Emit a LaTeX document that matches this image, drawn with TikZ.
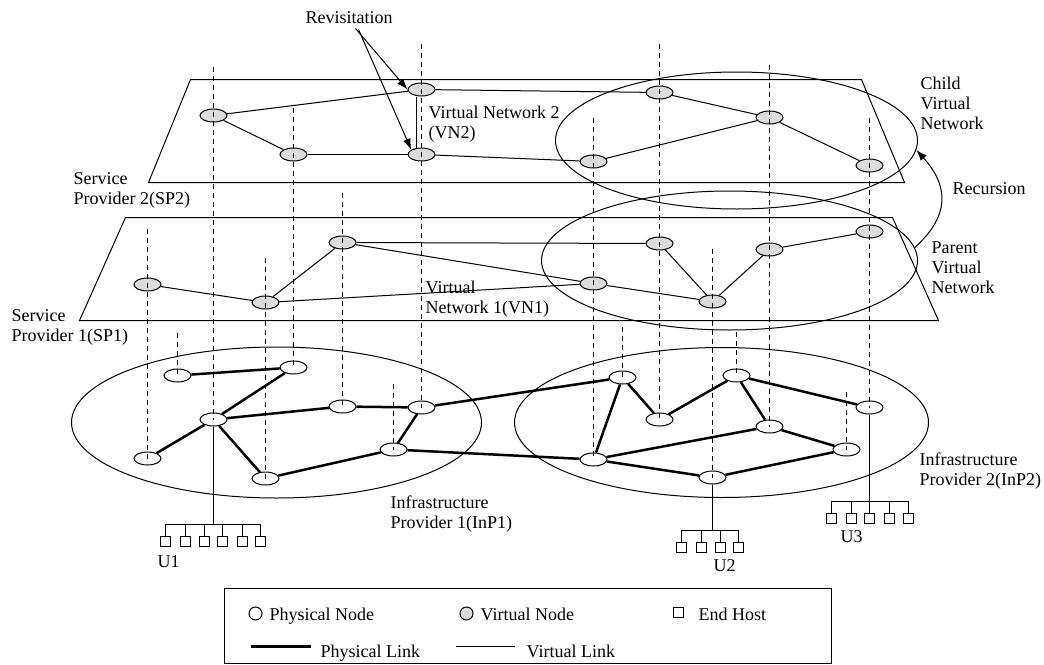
\documentclass[tikz,border=0pt]{standalone}
\usepackage{fontspec}
\setmainfont{Liberation Serif}
\usetikzlibrary{shapes.geometric,arrows.meta,calc}
\definecolor{vfill}{RGB}{220,220,220}
\begin{document}
\begin{tikzpicture}[x=1pt,y=-1pt,
  txt/.style={font=\fontsize{18}{20}\selectfont, inner sep=0pt},
  ml/.style={txt, align=left, anchor=north west},
  sl/.style={txt, anchor=base west},
  vnode/.style={ellipse, draw, fill=vfill, line width=1pt, minimum width=27pt, minimum height=13pt, inner sep=0pt},
  pnode/.style={ellipse, draw, fill=white, line width=1pt, minimum width=27pt, minimum height=13pt, inner sep=0pt},
  host/.style={rectangle, draw, fill=white, line width=1pt, minimum size=10pt, inner sep=0pt},
  plane/.style={draw, line width=1pt, line join=miter},
  region/.style={ellipse, draw, line width=1pt, inner sep=0pt},
  vlink/.style={line width=1pt},
  plink/.style={line width=2.5pt},
  hline/.style={line width=1pt},
  vdash/.style={line width=1pt, dash pattern=on 5pt off 4pt},
  arr/.style={line width=1pt, -{Latex[length=11pt,width=8pt]}},
]
\useasboundingbox (0,0) rectangle (1044,664);
\begin{scope}[shift={(0.5,0.5)}]

% planes
\coordinate (s2a) at (190,79); \coordinate (s2b) at (861,79);
\coordinate (s2c) at (904,182); \coordinate (s2d) at (148,182);
\draw[plane] (s2a) -- (s2b) -- (s2c) -- (s2d) -- cycle;
\coordinate (s1a) at (125,217); \coordinate (s1b) at (892,217);
\coordinate (s1c) at (938,320); \coordinate (s1d) at (79,320);
\draw[plane] (s1a) -- (s1b) -- (s1c) -- (s1d) -- cycle;

% regions
\node[region, minimum width=362pt, minimum height=137pt] (CVN) at (736,140) {};
\node[region, minimum width=376pt, minimum height=139pt] (PVN) at (729,260) {};
\node[region, minimum width=410pt, minimum height=151pt] (InPa) at (276,422) {};
\node[region, minimum width=414pt, minimum height=150pt] (InPb) at (721,422) {};

% SP2 virtual nodes
\node[vnode] (A) at (213,115) {};
\node[vnode] (B) at (293,154) {};
\node[vnode] (C) at (421,89) {};
\node[vnode] (D) at (421,154) {};
\node[vnode] (E) at (659,92) {};
\node[vnode] (F) at (769,117) {};
\node[vnode] (G) at (593,161) {};
\node[vnode] (H) at (869,165) {};
% SP1 virtual nodes
\node[vnode] (a) at (147,284) {};
\node[vnode] (b) at (265,302) {};
\node[vnode] (c) at (342,242) {};
\node[vnode] (d) at (659,243) {};
\node[vnode] (e) at (593,283) {};
\node[vnode] (f) at (712,301) {};
\node[vnode] (g) at (769,249) {};
\node[vnode] (h) at (869,231) {};
% physical nodes
\node[pnode] (p1) at (177,375) {};
\node[pnode] (p2) at (293,367) {};
\node[pnode] (p3) at (213,419) {};
\node[pnode] (p4) at (342,406) {};
\node[pnode] (p5) at (421,407) {};
\node[pnode] (p6) at (147,458) {};
\node[pnode] (p7) at (265,478) {};
\node[pnode] (p8) at (393,449) {};
\node[pnode] (q1) at (622,377) {};
\node[pnode] (q2) at (659,419) {};
\node[pnode] (q3) at (736,375) {};
\node[pnode] (q4) at (769,426) {};
\node[pnode] (q5) at (869,407) {};
\node[pnode] (q6) at (593,459) {};
\node[pnode] (q7) at (712,477) {};
\node[pnode] (q8) at (846,449) {};

% virtual links SP2
\draw[vlink] (A) -- (C);
\draw[vlink] (A) -- (B);
\draw[vlink] (B) -- (D);
\draw[vlink] ($(C.south)+(-5,0)$) -- ($(D.north)+(-5,0)$);
\draw[vlink] (C) -- (E);
\draw[vlink] (D) -- (G);
\draw[vlink] (E) -- (F);
\draw[vlink] (F) -- (G);
\draw[vlink] (F) -- (H);
% virtual links SP1
\draw[vlink] (a) -- (b);
\draw[vlink] (b) -- (c);
\draw[vlink] (b) -- (e);
\draw[vlink] (c) -- (d);
\draw[vlink] (c) -- (e);
\draw[vlink] (d) -- (f);
\draw[vlink] (e) -- (f);
\draw[vlink] (f) -- (g);
\draw[vlink] (g) -- (h);
% physical links
\foreach \u/\v in {p1/p2,p2/p3,p3/p6,p3/p4,p3/p7,p4/p5,p5/p8,p7/p8,p5/q1,p8/q6,
  q1/q6,q1/q2,q2/q3,q3/q4,q3/q5,q4/q6,q4/q8,q6/q7,q7/q8}
  \draw[plink] (\u) -- (\v);

% dashed mapping lines
\coordinate (t1) at (213,66);  \draw[vdash] (t1) -- (p3.center);
\coordinate (t2) at (293,107); \draw[vdash] (t2) -- (p2.center);
\coordinate (t3) at (342,192); \draw[vdash] (t3) -- (p4.center);
\coordinate (t4) at (421,43);  \draw[vdash] (t4) -- (p5.center);
\coordinate (t5) at (147,228); \draw[vdash] (t5) -- (p6.center);
\coordinate (t6) at (265,257); \draw[vdash] (t6) -- (p7.center);
\coordinate (t7) at (177,332); \draw[vdash] (t7) -- (p1.center);
\coordinate (t8) at (393,383); \draw[vdash] (t8) -- (p8.center);
\coordinate (t9) at (659,43);  \draw[vdash] (t9) -- (q2.center);
\coordinate (t10) at (593,117); \draw[vdash] (t10) -- (q6.center);
\coordinate (t11) at (622,326); \draw[vdash] (t11) -- (q1.center);
\coordinate (t12) at (712,248); \draw[vdash] (t12) -- (q7.center);
\coordinate (t13) at (736,331); \draw[vdash] (t13) -- (q3.center);
\coordinate (t14) at (769,64);  \draw[vdash] (t14) -- (q4.center);
\coordinate (t15) at (846,391); \draw[vdash] (t15) -- (q8.center);
\coordinate (t16) at (869,117); \draw[vdash] (t16) -- (q5.center);

% end hosts U1
\foreach \n/\x in {1/165,2/185,3/204,4/222,5/242,6/260}
  \node[host] (u1\n) at (\x,541) {};
\coordinate (bus1) at (213,524);
\draw[hline] (p3.south) -- (bus1);
\draw[hline] (u11.north) -- (u11.north |- bus1) -- (u16.north |- bus1) -- (u16.north);
\foreach \n in {2,3,4,5} \draw[hline] (u1\n.north) -- (u1\n.north |- bus1);
% U2
\foreach \n/\x in {1/681,2/701,3/720,4/738}
  \node[host] (u2\n) at (\x,547) {};
\coordinate (bus2) at (712,530);
\draw[hline] (q7.south) -- (bus2);
\draw[hline] (u21.north) -- (u21.north |- bus2) -- (u24.north |- bus2) -- (u24.north);
\foreach \n in {2,3} \draw[hline] (u2\n.north) -- (u2\n.north |- bus2);
% U3
\foreach \n/\x in {1/831,2/851,3/869,4/889,5/908}
  \node[host] (u3\n) at (\x,518) {};
\coordinate (bus3) at (869,501);
\draw[hline] (q5.south) -- (bus3);
\draw[hline] (u31.north) -- (u31.north |- bus3) -- (u35.north |- bus3) -- (u35.north);
\foreach \n in {2,3,4} \draw[hline] (u3\n.north) -- (u3\n.north |- bus3);

% labels
\node[sl] (rev) at (305,23) {Revisitation};
\coordinate (r1) at (355,28); \coordinate (r2) at (358,29);
\draw[arr] (r1) -- (C.west);
\draw[arr] (r2) -- (D.155);
\node[ml] (vn2) at (428,105) {Virtual Network 2\\(VN2)};
\node[ml] (sp2) at (73,172) {Service\\Provider 2(SP2)};
\node[ml] (sp1) at (11,309) {Service\\Provider 1(SP1)};
\node[ml] (vn1) at (425,280) {Virtual\\Network 1(VN1)};
\node[ml] (cvnl) at (920,76) {Child\\Virtual\\Network};
\node[sl] (recl) at (952,194) {Recursion};
\draw[arr] (PVN.4) .. controls (950,215) and (948,185) .. (CVN.-3);
\node[ml] (pvnl) at (931,241) {Parent\\Virtual\\Network};
\node[ml] (inp1) at (390,495) {Infrastructure\\Provider 1(InP1)};
\node[ml] (inp2) at (919,452) {Infrastructure\\Provider 2(InP2)};
\node[sl] (U1l) at (157,567) {U1};
\node[sl] (U2l) at (713,571) {U2};
\node[sl] (U3l) at (840,542) {U3};

% legend
\node[draw, line width=1pt, minimum width=607pt, minimum height=75pt, anchor=north west, inner sep=0pt] (legend) at (223,587) {};
\node[circle, draw, fill=white, line width=1pt, minimum size=13pt, inner sep=0pt] (lgp) at (255,613) {};
\node[sl] (lgpt) at (269,620) {Physical Node};
\node[circle, draw, fill=vfill, line width=1pt, minimum size=13pt, inner sep=0pt] (lgv) at (466,613) {};
\node[sl] (lgvt) at (480,620) {Virtual Node};
\node[host] (lgh) at (678,612) {};
\node[sl] (lght) at (698,620) {End Host};
\coordinate (lpa) at (250,646); \coordinate (lpb) at (310,646);
\draw[plink] (lpa) -- (lpb);
\node[sl] (lplt) at (320,657) {Physical Link};
\coordinate (lva) at (455,646); \coordinate (lvb) at (514,646);
\draw[vlink] (lva) -- (lvb);
\node[sl] (lvlt) at (526,657) {Virtual Link};
\end{scope}
\end{tikzpicture}
\end{document}
